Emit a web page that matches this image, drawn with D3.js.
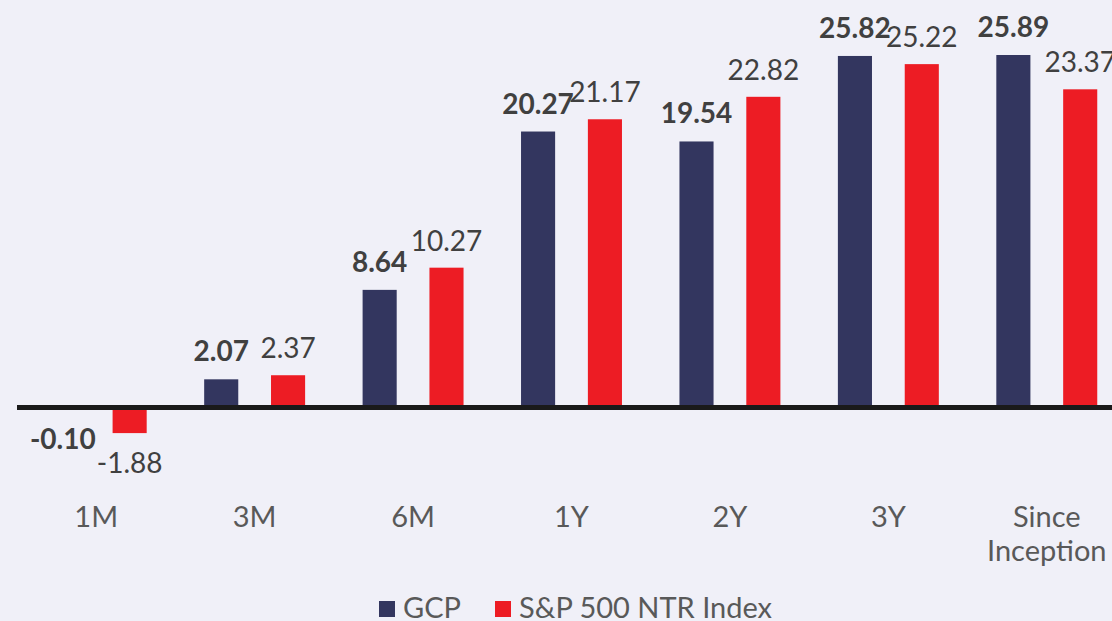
<!DOCTYPE html>
<html>
<head>
<meta charset="utf-8">
<script src="https://cdn.jsdelivr.net/npm/d3@7"></script>
<style>
  html, body { margin: 0; padding: 0; background: #f0f0f8; }
  svg { display: block; font-family: Lato, "Open Sans", sans-serif; }
</style>
</head>
<body>
<div id="chart"></div>
<script>
// periods and returns (%)
const categories = ['1M', '3M', '6M', '1Y', '2Y', '3Y', 'Since Inception'];
const seriesNames = ['GCP', 'S&P 500 NTR Index'];
const gcpValues = [-0.10, 2.07, 8.64, 20.27, 19.54, 25.82, 25.89];
const spValues = [-1.88, 2.37, 10.27, 21.17, 22.82, 25.22, 23.37];
const colors = ['#33365f', '#ed1c24'];

const width = 1112, height = 621;

const svg = d3.select('#chart').append('svg')
  .attr('width', width)
  .attr('height', height);

svg.append('rect').attr('width', width).attr('height', height).attr('fill', '#f0f0f8');

const x0 = d3.scaleBand().domain(categories).range([17, 1126]);
const x1 = d3.scaleBand().domain(seriesNames)
  .range([0, x0.bandwidth()])
  .paddingInner(0.49)
  .paddingOuter(0.43);

const y = d3.scaleLinear().domain([0, 26]).range([407.5, 407.5 - 26 * 13.615]);

const rows = categories.map((c, i) => ({
  cat: c,
  vals: [
    { name: seriesNames[0], v: gcpValues[i] },
    { name: seriesNames[1], v: spValues[i] }
  ]
}));

const group = svg.selectAll('g.cat')
  .data(rows)
  .join('g')
  .attr('class', 'cat')
  .attr('transform', d => `translate(${x0(d.cat)},0)`);

group.selectAll('rect')
  .data(d => d.vals)
  .join('rect')
  .attr('x', d => x1(d.name))
  .attr('width', x1.bandwidth())
  .attr('y', d => Math.min(y(d.v), y(0)))
  .attr('height', d => Math.abs(y(d.v) - y(0)))
  .attr('fill', (d, i) => colors[i]);

// value labels
group.selectAll('text.val')
  .data(d => d.vals)
  .join('text')
  .attr('class', 'val')
  .attr('x', d => x1(d.name) + x1.bandwidth() / 2)
  .attr('y', (d, i) => d.v >= 0 ? y(d.v) - (i === 0 ? 18 : 17) : y(d.v) + 40)
  .attr('text-anchor', 'middle')
  .attr('font-size', 28)
  .attr('font-weight', (d, i) => i === 0 ? 700 : 400)
  .attr('fill', '#404040')
  .text(d => d.v.toFixed(2));

// zero line
svg.append('line')
  .attr('x1', 17).attr('x2', width)
  .attr('y1', y(0)).attr('y2', y(0))
  .attr('stroke', '#1a1a1a')
  .attr('stroke-width', 5);

// category labels
const catLabels = svg.selectAll('text.cat')
  .data(categories)
  .join('text')
  .attr('class', 'cat')
  .attr('x', d => x0(d) + x0.bandwidth() / 2)
  .attr('y', 527)
  .attr('text-anchor', 'middle')
  .attr('font-size', 29)
  .attr('fill', '#595959');

catLabels.each(function(d) {
  const words = d === 'Since Inception' ? ['Since', 'Inception'] : [d];
  d3.select(this).selectAll('tspan')
    .data(words)
    .join('tspan')
    .attr('x', x0(d) + x0.bandwidth() / 2)
    .attr('dy', (w, i) => i === 0 ? 0 : 34)
    .text(w => w);
});

// legend
const legend = svg.append('g');
const legendX = [379, 495];
seriesNames.forEach((s, i) => {
  legend.append('rect')
    .attr('x', legendX[i]).attr('y', 601)
    .attr('width', 16).attr('height', 16)
    .attr('fill', colors[i]);
  legend.append('text')
    .attr('x', legendX[i] + 24).attr('y', 618)
    .attr('font-size', 29)
    .attr('fill', '#595959')
    .text(s);
});
</script>
</body>
</html>
